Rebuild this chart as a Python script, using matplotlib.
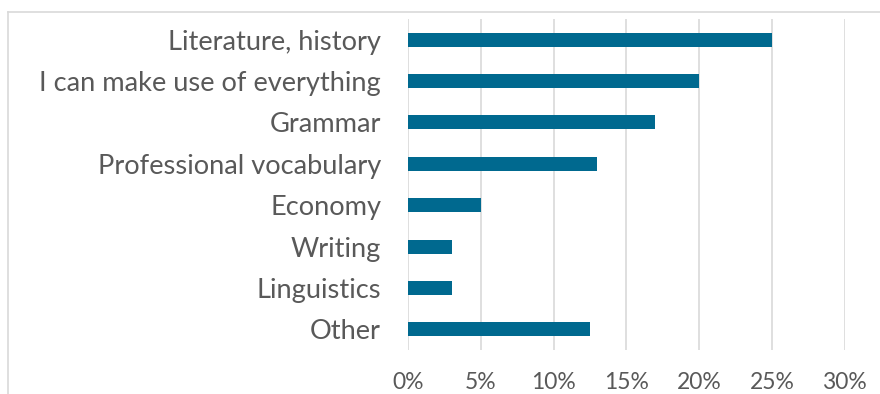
import matplotlib
matplotlib.use("Agg")
import matplotlib.pyplot as plt
from matplotlib.lines import Line2D

categories = ["Literature, history", "I can make use of everything", "Grammar",
              "Professional vocabulary", "Economy", "Writing", "Linguistics", "Other"]
values = [25, 20, 17, 13, 5, 3, 3, 12.5]
xticks = [0, 5, 10, 15, 20, 25, 30]
xtick_labels = ["0%", "5%", "10%", "15%", "20%", "25%", "30%"]

plt.rcParams["font.family"] = ["Lato", "DejaVu Sans"]
text_color = "#595959"
grid_color = "#d9d9d9"
bar_color = "#00698f"

fig = plt.figure(figsize=(8.8, 3.94), dpi=100)
ax = fig.add_axes([0.4636, 0.1117, 0.4963, 0.8401])

ypos = list(range(len(categories)))
ax.barh(ypos, values, height=0.34, color=bar_color, zorder=3)
ax.set_ylim(len(categories) - 0.5, -0.5)
ax.set_xlim(0, 30)

ax.set_yticks(ypos)
ax.set_yticklabels(categories, fontsize=19.6, color=text_color)
ax.set_xticks(xticks)
ax.set_xticklabels(xtick_labels, fontsize=16.5, color=text_color)
ax.tick_params(axis="y", length=0, pad=19.4)
ax.tick_params(axis="x", length=0, pad=15.5)

ax.grid(axis="x", color=grid_color, linewidth=1.2, zorder=0)
for s in ax.spines.values():
    s.set_visible(False)

# outer chart frame (top and left edges)
fig.add_artist(Line2D([0.0091, 1.0], [0.9695, 0.9695], transform=fig.transFigure,
                      color=grid_color, linewidth=1.2))
fig.add_artist(Line2D([0.0091, 0.0091], [0.0, 0.9695], transform=fig.transFigure,
                      color=grid_color, linewidth=1.2))

fig.savefig("out.png", dpi=100)
